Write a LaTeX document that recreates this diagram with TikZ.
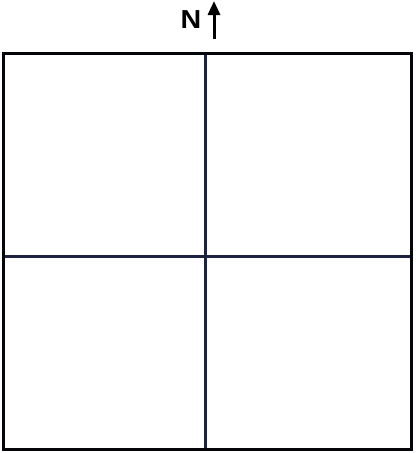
\documentclass[tikz,border=0pt]{standalone}
\usepackage{graphicx}
\usepackage{fontspec}
\setmainfont{Liberation Sans}
\usetikzlibrary{arrows.meta}
\definecolor{gridline}{HTML}{1C2340}
\begin{document}
\begin{tikzpicture}[x=1pt,y=-1pt,
  gridedge/.style={draw=gridline,line width=3pt},
  northarrow/.style={draw=black,line width=3pt,-{Triangle[length=14pt,width=12pt]}}]
\useasboundingbox (0,0) rectangle (416,453);
\fill[white] (0,0) rectangle (416,453);
\coordinate (tl) at (3,53);
\coordinate (br) at (411,449);
\coordinate (mt) at (205,53);
\coordinate (mb) at (205,449);
\coordinate (ml) at (3,256);
\coordinate (mr) at (411,256);
\draw[gridedge] (mt) -- (mb);
\draw[gridedge] (ml) -- (mr);
\draw[gridedge,draw=black!85!gridline] (tl) rectangle (br);
\node[inner sep=0pt] (N) at (191,20) {\fontsize{26}{26}\selectfont\bfseries\scalebox{1.1}[1]{N}};
\coordinate (arrbot) at (214,39);
\coordinate (arrtop) at (214,1);
\draw[northarrow] (arrbot) -- (arrtop);
\end{tikzpicture}
\end{document}
